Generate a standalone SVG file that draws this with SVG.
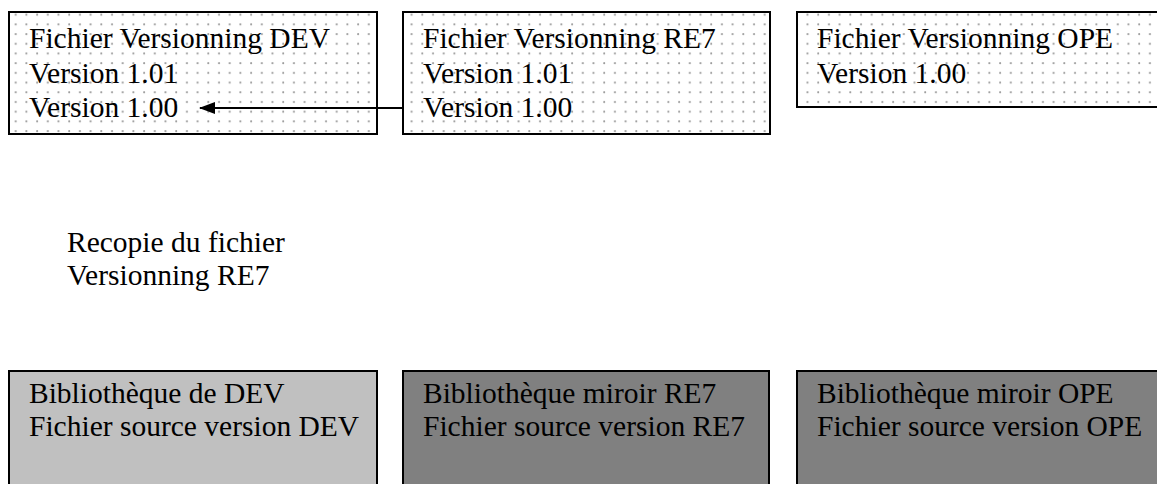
<svg xmlns="http://www.w3.org/2000/svg" width="1157" height="484" viewBox="0 0 1157 484">
  <defs>
    <pattern id="dots" x="0" y="0" width="10.7" height="9.7" patternUnits="userSpaceOnUse">
      <rect width="10.7" height="9.7" fill="#ffffff"/>
      <circle cx="5" cy="5" r="1" fill="#999999"/>
    </pattern>
    <marker id="arrow" viewBox="0 0 16 12" refX="15" refY="6" markerWidth="16" markerHeight="12" markerUnits="userSpaceOnUse" orient="auto">
      <path d="M0,0 L16,6 L0,12 Z" fill="#000"/>
    </marker>
    <style>
      .ver { fill: url(#dots); stroke: #000; stroke-width: 2; }
      .lib { stroke: #000; stroke-width: 2; }
      .t { font-family: "Liberation Serif", "Times New Roman", serif; font-size: 29.5px; fill: #000; }
      .conn { stroke: #000; stroke-width: 2; fill: none; }
    </style>
  </defs>
  <rect width="1157" height="484" fill="#ffffff"/>

  <g id="ver-dev">
    <rect class="ver" x="9" y="12" width="368" height="122"/>
    <text class="t" x="29" y="48">Fichier Versionning DEV</text>
    <text class="t" x="29" y="83">Version 1.01</text>
    <text class="t" x="29" y="117">Version 1.00</text>
  </g>
  <g id="ver-re7">
    <rect class="ver" x="403" y="12" width="367" height="122"/>
    <text class="t" x="423" y="48">Fichier Versionning RE7</text>
    <text class="t" x="423" y="83">Version 1.01</text>
    <text class="t" x="423" y="117">Version 1.00</text>
  </g>
  <g id="ver-ope">
    <rect class="ver" x="797" y="12" width="380" height="95"/>
    <text class="t" x="817" y="48">Fichier Versionning OPE</text>
    <text class="t" x="817" y="83">Version 1.00</text>
  </g>

  <g id="label-recopie">
    <text class="t" x="67" y="252">Recopie du fichier</text>
    <text class="t" x="67" y="285">Versionning RE7</text>
  </g>

  <g id="lib-dev">
    <rect class="lib" x="9" y="371" width="368" height="130" fill="#c0c0c0"/>
    <text class="t" x="29" y="403">Bibliothèque de DEV</text>
    <text class="t" x="29" y="436">Fichier source version DEV</text>
  </g>
  <g id="lib-re7">
    <rect class="lib" x="403" y="371" width="366" height="130" fill="#808080"/>
    <text class="t" x="423" y="403">Bibliothèque miroir RE7</text>
    <text class="t" x="423" y="436">Fichier source version RE7</text>
  </g>
  <g id="lib-ope">
    <rect class="lib" x="797" y="371" width="380" height="130" fill="#808080"/>
    <text class="t" x="817" y="403">Bibliothèque miroir OPE</text>
    <text class="t" x="817" y="436">Fichier source version OPE</text>
  </g>

  <g id="connectors">
    <line class="conn" x1="403" y1="108" x2="200" y2="108" marker-end="url(#arrow)"/>
  </g>
</svg>
